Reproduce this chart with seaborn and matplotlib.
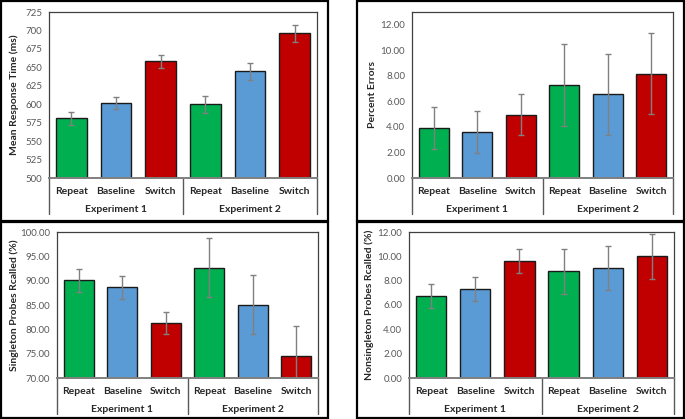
import matplotlib
matplotlib.use("Agg")
import matplotlib.pyplot as plt
import matplotlib.transforms as mtrans
from matplotlib.patches import Rectangle
import seaborn as sns
import pandas as pd

conditions = ["Repeat", "Baseline", "Switch"]
experiments = ["Experiment 1", "Experiment 2"]
bar_colors = ["#00B050", "#5B9BD5", "#C00000"]

rt_means = [581, 602, 658, 600, 645, 696]
rt_err = [8.5, 8.0, 9.0, 11.5, 11.5, 11.7]
pe_means = [3.93, 3.62, 4.97, 7.29, 6.56, 8.18]
pe_err = [1.64, 1.64, 1.64, 3.19, 3.18, 3.16]
sg_means = [90.05, 88.6, 81.25, 92.7, 85.07, 74.5]
sg_err = [2.4, 2.3, 2.3, 6.1, 6.0, 6.1]
ns_means = [6.74, 7.31, 9.63, 8.78, 9.03, 10.01]
ns_err = [0.98, 0.98, 0.98, 1.84, 1.83, 1.84]

sns.set_theme(style="white")
plt.rcParams["font.family"] = ["Lato", "DejaVu Sans"]

W, H = 685, 419
fig = plt.figure(figsize=(W / 100, H / 100), dpi=100)


def px_axes(left, right, top, bottom):
    return fig.add_axes([left / W, 1 - bottom / H, (right - left) / W, (bottom - top) / H])


def panel(ax, means, errs, ylim, ticks, fmt, ylabel, ylabel_x, hpx):
    slots = [f"{c} {e}" for e in experiments for c in conditions]
    df = pd.DataFrame({"slot": slots, "value": means})
    sns.barplot(data=df, x="slot", y="value", hue="slot", order=slots,
                palette=bar_colors * 2, legend=False, width=0.69, saturation=1,
                edgecolor="#1a1a1a", linewidth=1.0, ax=ax)
    ax.errorbar(range(6), means, yerr=errs, fmt="none", ecolor="#808080",
                elinewidth=1.0, capsize=2.5, capthick=1.0, zorder=5)
    ax.set_xlim(-0.5, 5.5)
    ax.set_ylim(*ylim)
    ax.set_yticks(ticks)
    ax.set_yticklabels([fmt.format(t) for t in ticks], color="#595959", fontsize=7)
    ax.tick_params(axis="y", length=0, pad=5)
    ax.set_xticks([])
    ax.set_xlabel("")
    ax.set_ylabel(ylabel, fontsize=7.5, fontweight="bold", color="#262626")
    ax.yaxis.set_label_coords(ylabel_x, 0.5)
    for s in ax.spines.values():
        s.set_color("#404040")
        s.set_linewidth(0.9)
    ax.spines["bottom"].set_color("#7f7f7f")
    ax.spines["bottom"].set_linewidth(1.4)
    xt = ax.get_xaxis_transform()
    off1 = xt + mtrans.ScaledTranslation(0, -0.13, fig.dpi_scale_trans)
    off2 = xt + mtrans.ScaledTranslation(0, -0.31, fig.dpi_scale_trans)
    for i in range(6):
        ax.text(i, 0, conditions[i % 3], transform=off1, ha="center", va="center",
                fontsize=7.5, fontweight="bold", color="#262626")
    for j, e in enumerate(experiments):
        ax.text(1 + 3 * j, 0, e, transform=off2, ha="center", va="center",
                fontsize=7.5, fontweight="bold", color="#262626")
    drop = 36 / hpx
    for xv in [-0.5, 2.5, 5.5]:
        ax.plot([xv, xv], [0, -drop], transform=xt, color="#595959", lw=1.0,
                clip_on=False)


ax1 = px_axes(49, 317, 12, 178)
panel(ax1, rt_means, rt_err, (500, 725), list(range(500, 726, 25)), "{:.0f}",
      "Mean Response Time (ms)", -0.112, 166)
ax2 = px_axes(412, 673, 12, 178)
panel(ax2, pe_means, pe_err, (0, 13), [0, 2, 4, 6, 8, 10, 12], "{:.2f}",
      "Percent Errors", -0.135, 166)
ax3 = px_axes(57, 318, 232, 378)
panel(ax3, sg_means, sg_err, (70, 100), [70, 75, 80, 85, 90, 95, 100], "{:.2f}",
      "Singleton Probes Rcalled (%)", -0.146, 146)
ax4 = px_axes(409, 674, 232, 378)
panel(ax4, ns_means, ns_err, (0, 12), [0, 2, 4, 6, 8, 10, 12], "{:.2f}",
      "Nonsingleton Probes Rcalled (%)", -0.132, 146)

for (x0, x1, y0, y1) in [(1, 328, 1, 221), (357, 684, 1, 221),
                         (1, 328, 222, 418), (357, 684, 222, 418)]:
    fig.add_artist(Rectangle((x0 / W, 1 - y1 / H), (x1 - x0) / W, (y1 - y0) / H,
                             transform=fig.transFigure, fill=False,
                             edgecolor="black", linewidth=1.6))

fig.savefig("out.png", dpi=100)
